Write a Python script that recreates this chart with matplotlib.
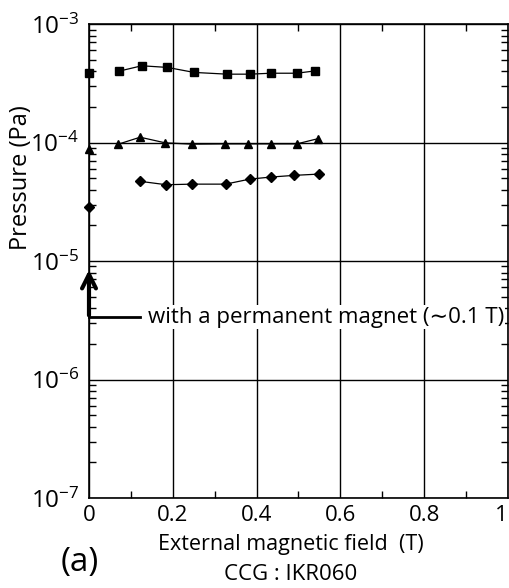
import numpy as np
import matplotlib
matplotlib.use('Agg')
import matplotlib.pyplot as plt
from matplotlib.ticker import LogLocator, MultipleLocator, NullFormatter

plt.rcParams['font.family'] = ['Open Sans', 'DejaVu Sans']
plt.rcParams['mathtext.fontset'] = 'custom'
plt.rcParams['mathtext.rm'] = 'Open Sans'
plt.rcParams['mathtext.it'] = 'Open Sans'

# squares
sq_x = [0.0, 0.072, 0.126, 0.187, 0.251, 0.330, 0.384, 0.434, 0.496, 0.540]
sq_y = [3.84e-4, 4.01e-4, 4.45e-4, 4.31e-4, 3.91e-4, 3.78e-4, 3.78e-4, 3.85e-4, 3.85e-4, 4.03e-4]
# triangles
tr_x = [0.0, 0.070, 0.122, 0.182, 0.247, 0.325, 0.380, 0.434, 0.496, 0.547]
tr_y = [8.8e-5, 9.7e-5, 1.11e-4, 9.95e-5, 9.7e-5, 9.75e-5, 9.75e-5, 9.75e-5, 9.75e-5, 1.08e-4]
# diamonds
di_x = [0.0, 0.122, 0.184, 0.247, 0.326, 0.384, 0.435, 0.490, 0.548]
di_y = [2.84e-5, 4.71e-5, 4.41e-5, 4.46e-5, 4.46e-5, 4.92e-5, 5.12e-5, 5.29e-5, 5.42e-5]

x_ticks = [0, 0.2, 0.4, 0.6, 0.8, 1]
x_labels = ['0', '0.2', '0.4', '0.6', '0.8', '1']
y_ticks = [1e-7, 1e-6, 1e-5, 1e-4, 1e-3]
y_labels = ['$10^{-7}$', '$10^{-6}$', '$10^{-5}$', '$10^{-4}$', '$10^{-3}$']

fig = plt.figure(figsize=(5.1, 5.88), dpi=100)
ax = fig.add_axes([0.1745, 0.153, 0.8215, 0.806])

for xs, ys, m, ms in [(sq_x, sq_y, 's', 6), (tr_x, tr_y, '^', 6), (di_x, di_y, 'D', 5)]:
    # first point (x=0) is the permanent-magnet case, not joined to the rest
    ax.plot(xs[1:], ys[1:], '-', color='black', lw=0.9, marker=m, ms=ms, mfc='black', mec='black')
    ax.plot(xs[:1], ys[:1], ls='none', marker=m, ms=ms, color='black', clip_on=False, zorder=5)

ax.set_yscale('log')
ax.set_xlim(0, 1)
ax.set_ylim(1e-7, 1e-3)
ax.set_xticks(x_ticks)
ax.set_xticklabels(x_labels)
ax.get_xticklabels()[-1].set_horizontalalignment('right')
ax.set_yticks(y_ticks)
ax.set_yticklabels(y_labels)
ax.xaxis.set_minor_locator(MultipleLocator(0.1))
ax.yaxis.set_minor_locator(LogLocator(base=10, subs=np.arange(2, 10), numticks=20))
ax.yaxis.set_minor_formatter(NullFormatter())
ax.tick_params(which='both', direction='in', top=True, right=True)
ax.tick_params(axis='x', labelsize=16, pad=5)
ax.tick_params(axis='y', labelsize=17.5, pad=7)
ax.tick_params(which='major', length=0)
ax.tick_params(which='minor', length=5, width=1)
ax.grid(True, which='major', color='black', lw=1)
for s in ax.spines.values():
    s.set_linewidth(1.2)

# permanent magnet arrow
ax.plot([0, 0.122], [3.37e-6, 3.37e-6], color='black', lw=2, clip_on=False)
ax.annotate('', xy=(0.0, 8.9e-6), xytext=(0.0, 3.3e-6),
            arrowprops=dict(arrowstyle='->,head_length=1.0,head_width=0.5', lw=3, color='black'),
            annotation_clip=False)
ax.text(0.14, 3.37e-6, 'with a permanent magnet (\u223c0.1 T)', fontsize=16,
        va='center', ha='left', family=['Open Sans', 'DejaVu Sans'],
        bbox=dict(facecolor='white', edgecolor='none', pad=1))

fig.text(21 / 510, 1 - 178 / 588, 'Pressure (Pa)', rotation=90, fontsize=17, ha='center', va='center')
fig.text(291 / 510, 1 - 550 / 588, 'External magnetic field  (T)', fontsize=15.5, ha='center', va='baseline')
fig.text(291 / 510, 1 - 580 / 588, 'CCG : IKR060', fontsize=16, ha='center', va='baseline')
fig.text(80 / 510, 1 - 562 / 588, '(a)', fontsize=24, ha='center', va='center')

fig.savefig('out.png', dpi=100)
